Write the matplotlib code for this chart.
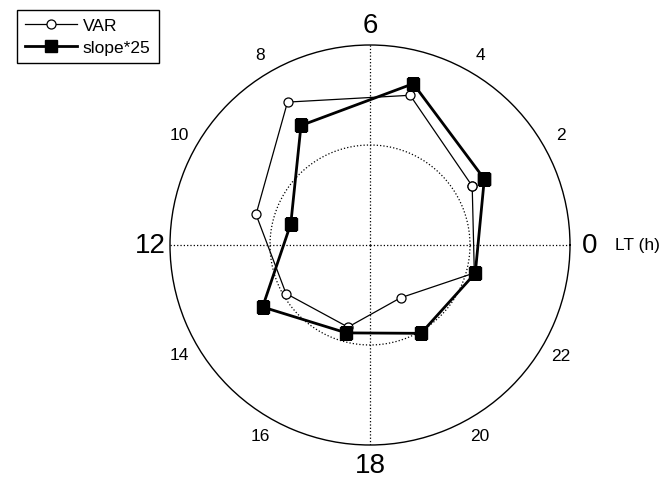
import numpy as np
import matplotlib
matplotlib.use("Agg")
import matplotlib.pyplot as plt

plt.rcParams['font.family'] = ['Liberation Sans', 'DejaVu Sans']

# Local time (hours) of each point
lt_hours = [2, 5, 8, 11, 14, 17, 20, 23]
var_values = [1.18, 1.55, 1.65, 1.18, 0.97, 0.85, 0.61, 1.08]
slope25_values = [1.32, 1.67, 1.38, 0.82, 1.24, 0.91, 1.02, 1.09]
series_names = ["VAR", "slope*25"]
big_tick_labels = ["0", "6", "12", "18"]
small_tick_labels = ["2", "4", "8", "10", "14", "16", "20", "22"]
rmax = 2.0

fig = plt.figure(figsize=(6.59, 4.81), dpi=100)
W, H = 659, 481
cx, cy, R = 370, 246, 200
ax = fig.add_axes([(cx - R) / W, (H - cy - R) / H, 2 * R / W, 2 * R / H], projection='polar')
ax.set_ylim(0, rmax)
ax.grid(False)
ax.set_xticks([])
ax.set_yticks([])
ax.spines['polar'].set_linewidth(1.0)
ax.spines['polar'].set_color('black')

# dotted guides
th = np.linspace(0, 2 * np.pi, 361)
ax.plot(th, np.full_like(th, rmax / 2), linestyle=':', color='black', lw=0.9)
for a in [0, 90, 180, 270]:
    ax.plot([np.deg2rad(a)] * 2, [0, rmax], linestyle=':', color='black', lw=0.9)

def closed(lst):
    return list(lst) + [lst[0]]

theta = np.deg2rad(np.array(closed(lt_hours)) * 15.0)
ax.plot(theta, closed(var_values), color='black', lw=0.9, marker='o', ms=6.5,
        mfc='white', mec='black', mew=0.9, label=series_names[0])
ax.plot(theta, closed(slope25_values), color='black', lw=2.0, marker='s', ms=9,
        mfc='black', mec='black', label=series_names[1])

for lab in big_tick_labels:
    t = np.deg2rad(int(lab) * 15)
    ax.text(t, 2.2, lab, ha='center', va='center', fontsize=20, clip_on=False)
for lab in small_tick_labels:
    t = np.deg2rad(int(lab) * 15)
    ax.text(t, 2.2, lab, ha='center', va='center', fontsize=12.5, clip_on=False)
ax.text(0, 2.675, "LT (h)", ha='center', va='center', fontsize=12.5, clip_on=False)

leg = fig.legend(loc='upper left', bbox_to_anchor=(17 / W, 1 - 11 / H), borderaxespad=0,
                 fancybox=False, edgecolor='black', framealpha=1, fontsize=12.5,
                 handlelength=3.0, handletextpad=0.35, borderpad=0.45, labelspacing=0.4)
leg.get_frame().set_linewidth(1.0)

fig.savefig("out.png", dpi=100)
